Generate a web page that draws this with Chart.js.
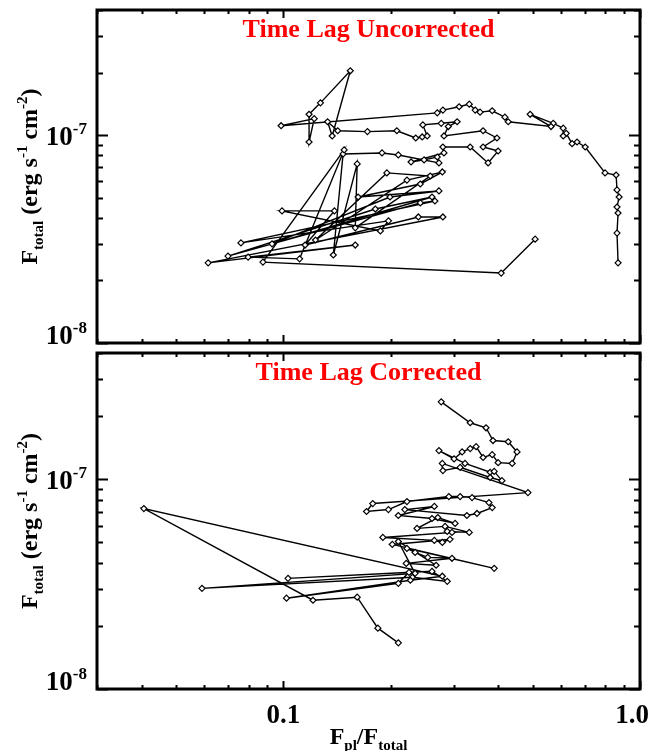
<!DOCTYPE html>
<html lang="en">
<head>
  <meta charset="UTF-8">
  <title>Time Lag</title>
  <script src="https://cdn.jsdelivr.net/npm/chart.js"></script>
  <style>
    body { margin: 0; background: #fff; }
    #wrap { position: relative; width: 670px; height: 751px; }
    canvas { position: absolute; left: 0; }
  </style>
</head>
<body>
<div id="wrap">
  <canvas id="chartTop" width="670" height="348" style="top:0px"></canvas>
  <canvas id="chartBottom" width="670" height="403" style="top:348px"></canvas>
</div>
<script>
  // Fpl/Ftotal and Ftotal, time lag uncorrected (points in time order)
  const uncorrFrac = [0.868, 0.862, 0.868, 0.862, 0.874, 0.862, 0.857, 0.798, 0.702, 0.666,
    0.645, 0.621, 0.609, 0.609, 0.571, 0.492, 0.563, 0.427, 0.418, 0.385,
    0.356, 0.345, 0.332, 0.311, 0.280, 0.270, 0.0985, 0.122, 0.118, 0.118,
    0.127, 0.154, 0.137, 0.133, 0.142, 0.172, 0.208, 0.235, 0.245, 0.253,
    0.246, 0.277, 0.307, 0.290, 0.282, 0.363, 0.397, 0.363, 0.400, 0.375,
    0.334, 0.280, 0.282, 0.228, 0.248, 0.270, 0.273, 0.210, 0.189, 0.147,
    0.138, 0.161, 0.159, 0.258, 0.195, 0.123, 0.222, 0.279, 0.242, 0.162,
    0.273, 0.199, 0.0929, 0.261, 0.181, 0.0699, 0.242, 0.266, 0.0760, 0.197,
    0.187, 0.0991, 0.139, 0.115, 0.239, 0.280, 0.0615, 0.159, 0.0796, 0.111,
    0.148, 0.0876, 0.408, 0.508];
  const uncorrFlux = [2.43e-8, 3.38e-8, 4.22e-8, 4.51e-8, 5.04e-8, 5.45e-8, 6.43e-8, 6.58e-8, 8.77e-8, 9.27e-8,
    9.10e-8, 1.02e-7, 9.91e-8, 1.08e-7, 1.14e-7, 1.26e-7, 1.10e-7, 1.16e-7, 1.22e-7, 1.31e-7,
    1.29e-7, 1.32e-7, 1.41e-7, 1.37e-7, 1.32e-7, 1.28e-7, 1.11e-7, 1.20e-7, 9.27e-8, 1.26e-7,
    1.43e-7, 2.04e-7, 9.91e-8, 1.16e-7, 1.05e-7, 1.04e-7, 1.05e-7, 9.69e-8, 9.80e-8, 9.91e-8,
    1.12e-7, 1.14e-7, 1.16e-7, 1.10e-7, 9.91e-8, 1.05e-7, 9.69e-8, 8.77e-8, 8.39e-8, 7.35e-8,
    8.77e-8, 8.77e-8, 8.21e-8, 7.43e-8, 7.60e-8, 7.85e-8, 7.35e-8, 8.03e-8, 8.21e-8, 8.12e-8,
    2.65e-8, 7.27e-8, 3.58e-8, 6.36e-8, 6.58e-8, 3.13e-8, 6.08e-8, 6.65e-8, 5.82e-8, 5.04e-8,
    5.39e-8, 5.04e-8, 3.00e-8, 5.04e-8, 4.41e-8, 2.62e-8, 4.72e-8, 4.82e-8, 3.03e-8, 3.87e-8,
    3.46e-8, 4.32e-8, 4.32e-8, 2.96e-8, 4.04e-8, 4.04e-8, 2.43e-8, 2.96e-8, 2.59e-8, 2.54e-8,
    8.49e-8, 2.45e-8, 2.17e-8, 3.16e-8];

  // Fpl/Ftotal and Ftotal, time lag corrected
  const corrFrac = [0.277, 0.334, 0.370, 0.387, 0.427, 0.452, 0.438, 0.400, 0.385, 0.363,
    0.347, 0.334, 0.317, 0.301, 0.273, 0.323, 0.380, 0.390, 0.410, 0.380,
    0.313, 0.280, 0.279, 0.485, 0.178, 0.171, 0.197, 0.222, 0.291, 0.313,
    0.338, 0.377, 0.385, 0.349, 0.327, 0.219, 0.265, 0.210, 0.261, 0.303,
    0.271, 0.237, 0.284, 0.332, 0.288, 0.297, 0.190, 0.265, 0.279, 0.293,
    0.202, 0.390, 0.222, 0.234, 0.254, 0.297, 0.221, 0.268, 0.210, 0.234,
    0.0591, 0.230, 0.288, 0.261, 0.103, 0.225, 0.210, 0.102, 0.227, 0.279,
    0.0406, 0.121, 0.161, 0.184, 0.210];
  const corrFlux = [2.34e-7, 1.86e-7, 1.76e-7, 1.53e-7, 1.51e-7, 1.35e-7, 1.19e-7, 1.20e-7, 1.31e-7, 1.27e-7,
    1.43e-7, 1.40e-7, 1.35e-7, 1.25e-7, 1.37e-7, 1.19e-7, 1.08e-7, 1.09e-7, 9.85e-8, 1.02e-7,
    1.14e-7, 1.10e-7, 1.19e-7, 8.64e-8, 7.66e-8, 7.02e-8, 7.17e-8, 7.83e-8, 8.27e-8, 8.27e-8,
    8.18e-8, 7.74e-8, 7.33e-8, 6.87e-8, 6.72e-8, 7.17e-8, 7.42e-8, 6.72e-8, 6.50e-8, 6.16e-8,
    6.57e-8, 5.83e-8, 5.96e-8, 5.58e-8, 5.64e-8, 5.58e-8, 5.28e-8, 5.11e-8, 5.00e-8, 5.17e-8,
    4.89e-8, 3.76e-8, 4.68e-8, 4.48e-8, 4.24e-8, 4.20e-8, 3.97e-8, 3.89e-8, 5.05e-8, 3.56e-8,
    3.02e-8, 3.41e-8, 3.26e-8, 3.64e-8, 3.37e-8, 3.60e-8, 3.19e-8, 2.71e-8, 3.30e-8, 3.45e-8,
    7.25e-8, 2.65e-8, 2.74e-8, 1.95e-8, 1.66e-8];

  // axis ranges and labelled ticks
  const xRange = [0.03, 1.0];
  const yRange = [1e-8, 4e-7];
  const xTickValues = [0.1, 1.0];
  const xTickLabels = ['0.1', '1.0'];
  const yTickValues = [1e-8, 1e-7];
  const yTickExps = ['-8', '-7'];

  const FONT = '"Liberation Serif", "Times New Roman", serif';

  // draws a row of text pieces [text, size, dy] (for sub/superscripts)
  function drawRuns(ctx, runs, x, y, align) {
    let w = 0;
    runs.forEach(r => { ctx.font = 'bold ' + r[1] + 'px ' + FONT; w += ctx.measureText(r[0]).width; });
    let cx = align === 'center' ? x - w / 2 : (align === 'right' ? x - w : x);
    ctx.textAlign = 'left';
    ctx.textBaseline = 'alphabetic';
    runs.forEach(r => {
      ctx.font = 'bold ' + r[1] + 'px ' + FONT;
      ctx.fillText(r[0], cx, y + r[2]);
      cx += ctx.measureText(r[0]).width;
    });
  }

  // 1..9 x 10^n values inside the scale range
  function logTicks(min, max) {
    const out = [];
    for (let e = Math.floor(Math.log10(min)); e <= Math.ceil(Math.log10(max)); e++) {
      for (let m = 1; m <= 9; m++) {
        const v = m * Math.pow(10, e);
        if (v >= min * 0.999 && v <= max * 1.001) out.push({ v: v, major: m === 1 });
      }
    }
    return out;
  }

  // IDL style frame, inward ticks, labels and titles
  const idlAxes = {
    id: 'idlAxes',
    afterDatasetsDraw(chart, args, opts) {
      const ctx = chart.ctx;
      const a = chart.chartArea;
      const x = chart.scales.x, y = chart.scales.y;
      ctx.save();
      ctx.strokeStyle = '#000';
      ctx.fillStyle = '#000';
      ctx.lineWidth = 2;
      ctx.beginPath();
      logTicks(y.min, y.max).forEach(t => {
        const py = Math.round(y.getPixelForValue(t.v)) + 0.5;
        const len = t.major ? 11 : 6;
        ctx.moveTo(a.left, py); ctx.lineTo(a.left + len, py);
        ctx.moveTo(a.right, py); ctx.lineTo(a.right - len, py);
      });
      logTicks(x.min, x.max).forEach(t => {
        const px = Math.round(x.getPixelForValue(t.v)) + 0.5;
        const len = t.major ? 8 : 4;
        ctx.moveTo(px, a.bottom); ctx.lineTo(px, a.bottom - len);
        ctx.moveTo(px, a.top); ctx.lineTo(px, a.top + len);
      });
      ctx.stroke();
      ctx.lineWidth = 3;
      ctx.strokeRect(a.left, a.top, a.right - a.left, a.bottom - a.top);

      // y tick labels 10^n
      yTickValues.forEach((v, i) => {
        const py = y.getPixelForValue(v);
        const base = Math.min(py + 10, a.bottom + 1);
        drawRuns(ctx, [['10', 27, 0], [yTickExps[i], 17, -11]], a.left - 10, base, 'right');
      });

      // y axis title
      ctx.save();
      ctx.translate(37, (a.top + a.bottom) / 2);
      ctx.rotate(-Math.PI / 2);
      drawRuns(ctx, [['F', 24, 0], ['total', 15, 6], [' (erg s', 24, 0], ['-1', 15, -10],
        [' cm', 24, 0], ['-2', 15, -10], [')', 24, 0]], 0, 0, 'center');
      ctx.restore();

      // panel title
      ctx.fillStyle = '#ff0000';
      drawRuns(ctx, [[opts.title, 26, 0]], (a.left + a.right) / 2, a.top + 27, 'center');
      ctx.fillStyle = '#000';

      if (opts.showX) {
        xTickValues.forEach((v, i) => {
          const px = x.getPixelForValue(v);
          drawRuns(ctx, [[xTickLabels[i], 27, 0]], Math.min(px, a.right - 8), a.bottom + 34, 'center');
        });
        drawRuns(ctx, [['F', 24, 0], ['pl', 15, 6], ['/F', 24, 0], ['total', 15, 6]],
          (a.left + a.right) / 2, a.bottom + 55, 'center');
      }
      ctx.restore();
    }
  };

  function makeChart(id, fracs, fluxes, title, showX, padding) {
    return new Chart(document.getElementById(id), {
      type: 'scatter',
      data: {
        datasets: [{
          data: fracs.map((v, i) => ({ x: v, y: fluxes[i] })),
          showLine: true,
          borderColor: '#000',
          borderWidth: 1.4,
          pointStyle: 'rectRot',
          pointRadius: 3,
          pointBorderWidth: 1.2,
          pointBorderColor: '#000',
          pointBackgroundColor: '#fff'
        }]
      },
      options: {
        responsive: false,
        animation: false,
        devicePixelRatio: 1,
        layout: { padding: padding, autoPadding: false },
        scales: {
          x: { type: 'logarithmic', min: xRange[0], max: xRange[1], display: false },
          y: { type: 'logarithmic', min: yRange[0], max: yRange[1], display: false }
        },
        plugins: {
          legend: { display: false },
          tooltip: { enabled: false },
          idlAxes: { title: title, showX: showX }
        }
      },
      plugins: [idlAxes]
    });
  }

  makeChart('chartTop', uncorrFrac, uncorrFlux, 'Time Lag Uncorrected', false,
    { left: 97, top: 10, right: 30, bottom: 5 });
  makeChart('chartBottom', corrFrac, corrFlux, 'Time Lag Corrected', true,
    { left: 97, top: 5, right: 30, bottom: 62 });
</script>
</body>
</html>
